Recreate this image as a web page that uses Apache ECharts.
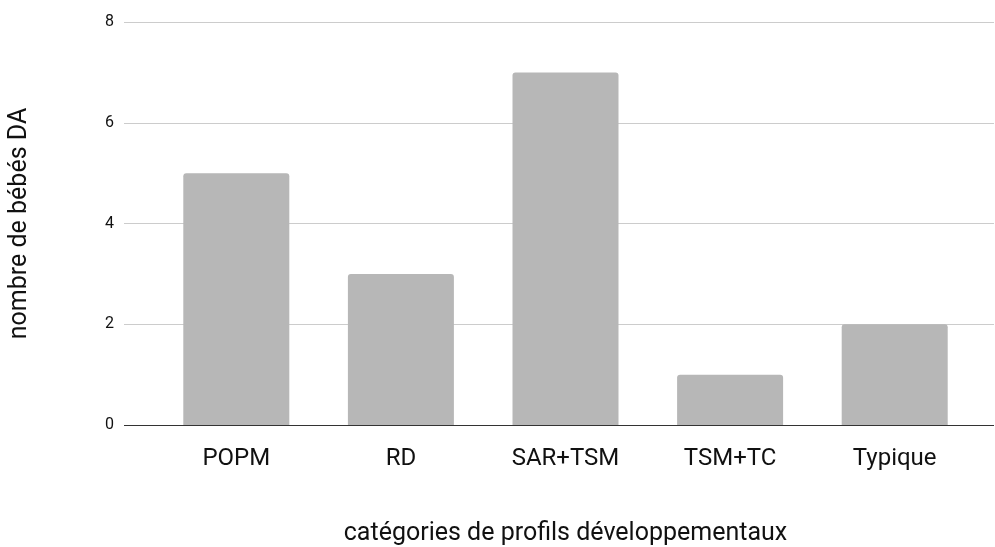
<!DOCTYPE html>
<html><head><meta charset="utf-8">
<script src="https://cdn.jsdelivr.net/npm/echarts@6/dist/echarts.min.js"></script>
<style>html,body{margin:0;padding:0;background:#fff}#c{width:995px;height:547px}</style>
</head><body><div id="c"></div>
<script>
const categories = ['POPM', 'RD', 'SAR+TSM', 'TSM+TC', 'Typique'];
const values = [5, 3, 7, 1, 2];
const yTicks = [0, 2, 4, 6, 8];
const xTitle = 'catégories de profils développementaux';
const yTitle = 'nombre de bébés DA';

const chart = echarts.init(document.getElementById('c'));
chart.setOption({
  animation: false,
  grid: [
    { left: 124, right: 1, top: 22, bottom: 122, outerBoundsMode: 'none', containLabel: false },
    { left: 154, right: 18, top: 22, bottom: 122, outerBoundsMode: 'none', containLabel: false }
  ],
  xAxis: [
    { gridIndex: 0, type: 'value', min: 0, max: 1, show: false },
    { gridIndex: 1, type: 'category', data: categories,
      axisLine: { show: false }, axisTick: { show: false },
      axisLabel: { color: '#111', fontFamily: 'Roboto', fontSize: 24, margin: 22 },
      name: xTitle, nameLocation: 'middle', nameGap: 96,
      nameTextStyle: { color: '#111', fontFamily: 'Roboto', fontSize: 25 } }
  ],
  yAxis: [
    { gridIndex: 0, type: 'value', min: yTicks[0], max: yTicks[yTicks.length - 1], interval: 2,
      axisLine: { show: false }, axisTick: { show: false },
      axisLabel: { color: '#111', fontFamily: 'Roboto', fontSize: 16, margin: 10 },
      splitLine: { lineStyle: { color: ['#333333', '#cccccc', '#cccccc', '#cccccc', '#cccccc'], width: 1 } },
      name: yTitle, nameLocation: 'middle', nameGap: 92, nameRotate: 90,
      nameTextStyle: { color: '#111', fontFamily: 'Roboto', fontSize: 25 } },
    { gridIndex: 1, type: 'value', min: yTicks[0], max: yTicks[yTicks.length - 1], interval: 2, show: false }
  ],
  series: [{
    type: 'bar', xAxisIndex: 1, yAxisIndex: 1, data: values,
    barWidth: '64.4%', z: 1,
    itemStyle: { color: '#b7b7b7', borderRadius: [3, 3, 0, 0] }
  }]
});
</script></body></html>
